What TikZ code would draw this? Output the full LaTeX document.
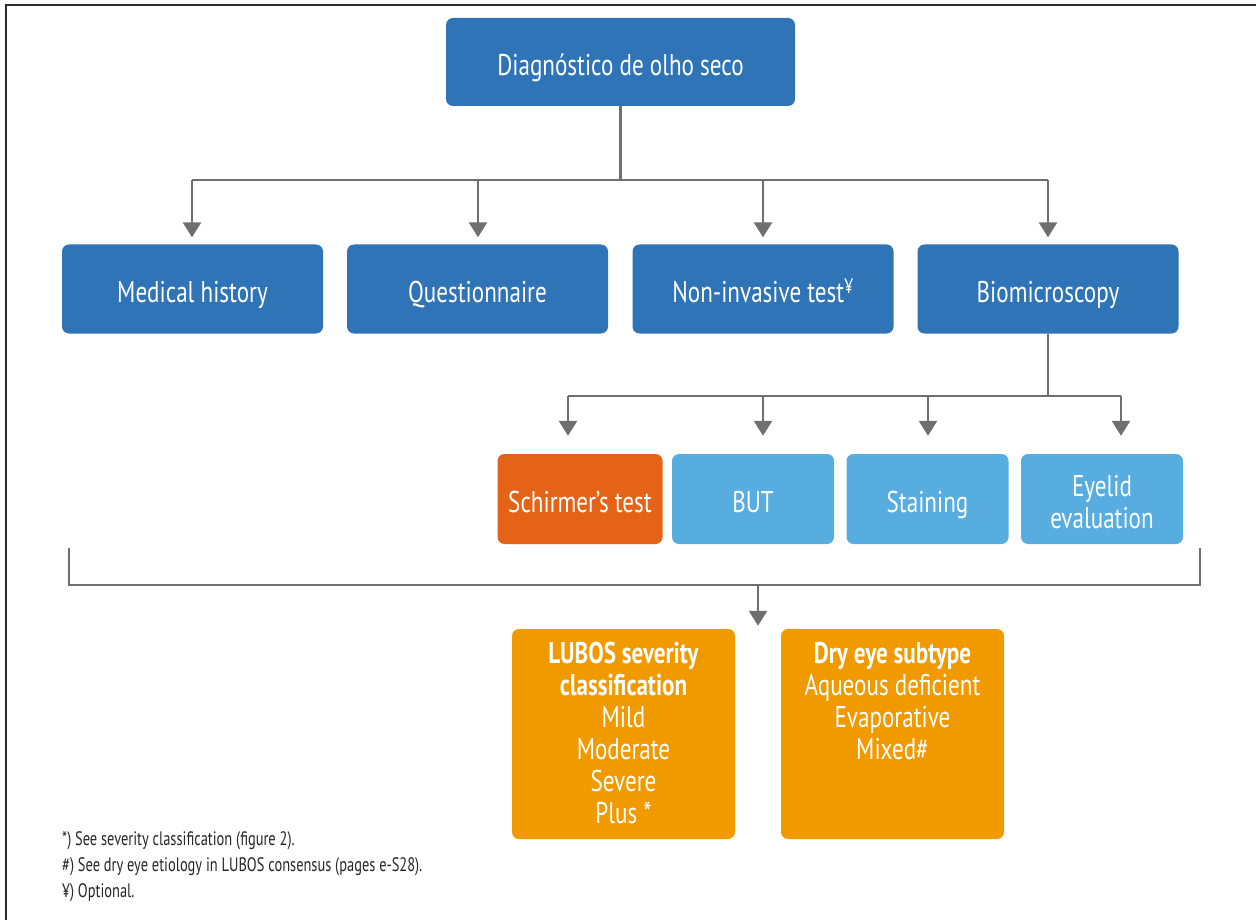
\documentclass[tikz,border=0pt]{standalone}
\usepackage{fontspec}
\setmainfont[FakeStretch=0.77]{PT Sans}
\newfontfamily\notefont[FakeStretch=0.74]{PT Sans}
\usetikzlibrary{arrows.meta}
\definecolor{dkblue}{HTML}{2E74B6}
\definecolor{ltblue}{HTML}{57ADE0}
\definecolor{rust}{HTML}{E56316}
\definecolor{amber}{HTML}{F09A00}
\definecolor{conn}{HTML}{6F6F72}
\definecolor{frame}{HTML}{2B2B2B}

\begin{document}
\begin{tikzpicture}[x=1pt,y=-1pt,
  box/.style={rounded corners=7pt, inner sep=0pt, text=white, align=center,
    font=\fontsize{30}{32}\selectfont},
  oneline/.style={text height=29pt, text depth=2pt},
  twoline/.style={text height=58pt, text depth=0pt},
  mainbox/.style={box, oneline, fill=dkblue, minimum width=261pt, minimum height=89pt},
  subbox/.style={box, fill=ltblue, minimum width=162pt, minimum height=90pt},
  resultbox/.style={box, fill=amber, minimum width=223pt, minimum height=210pt},
  boxtext/.style={text=white, align=center, inner sep=0pt,
    font=\fontsize{30}{32}\selectfont},
  link/.style={draw=conn, line width=2.6pt},
  arr/.style={link, -{Triangle[width=18pt,length=15pt]}},
  note/.style={anchor=north west, align=left, inner sep=0pt,
    font=\notefont\fontsize{19.5}{26}\selectfont, text=black!85}]

\useasboundingbox (0,0) rectangle (1256,920);
\draw[frame, line width=2pt] (6,920) -- (6,5) -- (1256,5);

% root
\node[box, oneline, fill=dkblue, minimum width=349pt, minimum height=88pt] (root) at (620.5,62)
  {Diagnóstico de olho seco};

% second level
\node[mainbox] (hist) at (192.5,289) {Medical history};
\node[mainbox] (quest) at (477.5,289) {Questionnaire};
\node[mainbox] (noninv) at (763,289) {Non-invasive test\textsuperscript{¥}};
\node[mainbox] (bio) at (1048,289) {Biomicroscopy};

\coordinate (hub) at (620.5,180);
\coordinate (j1) at (192,180);
\coordinate (j2) at (478,180);
\coordinate (j3) at (763,180);
\coordinate (j4) at (1048,180);
\draw[link] (root) -- (hub);
\draw[link] (j1) -- (j4);
\foreach \j/\n in {j1/hist, j2/quest, j3/noninv, j4/bio}
  \draw[arr, shorten >=7pt] (\j) -- (\j |- \n.north);

% third level
\node[box, oneline, fill=rust, minimum width=165pt, minimum height=90pt] (sch) at (580,499) {Schirmer’s test};
\node[subbox, oneline] (but) at (753,499) {BUT};
\node[subbox, oneline] (stain) at (927.5,499) {Staining};
\node[subbox, twoline] (eyelid) at (1102,499) {Eyelid\\evaluation};

\coordinate (bhub) at (1048,396);
\coordinate (k1) at (568,396);
\coordinate (k2) at (763,396);
\coordinate (k3) at (928,396);
\coordinate (k4) at (1121,396);
\draw[link] (bio) -- (bhub);
\draw[link] (k1) -- (k4);
\foreach \k/\n in {k1/sch, k2/but, k3/stain, k4/eyelid}
  \draw[arr, shorten >=18pt] (\k) -- (\k |- \n.north);

% gathering bracket
\coordinate (b1) at (69,548);
\coordinate (b2) at (69,585);
\coordinate (b3) at (1200,585);
\coordinate (b4) at (1200,548);
\coordinate (b0) at (758,585);
\draw[link] (b1) -- (b2) -- (b3) -- (b4);

% results
\node[resultbox] (lubos) at (623.5,734) {};
\node[resultbox] (subtype) at (892.5,734) {};
\draw[arr, shorten >=3pt] (b0) -- (b0 |- lubos.north);

\node[boxtext, anchor=north] (lubostxt) at ([yshift=-13pt]lubos.north)
  {\textbf{LUBOS severity}\\\textbf{classification}\\Mild\\Moderate\\Severe\\Plus *};
\node[boxtext, anchor=north] (subtypetxt) at ([yshift=-13pt]subtype.north)
  {\textbf{Dry eye subtype}\\Aqueous deficient\\Evaporative\\Mixed\#};

% footnotes
\node[note] (notes) at (62,831)
  {*) See severity classification (figure 2).\\
   \#) See dry eye etiology in LUBOS consensus (pages e-S28).\\
   ¥) Optional.};
\end{tikzpicture}
\end{document}
